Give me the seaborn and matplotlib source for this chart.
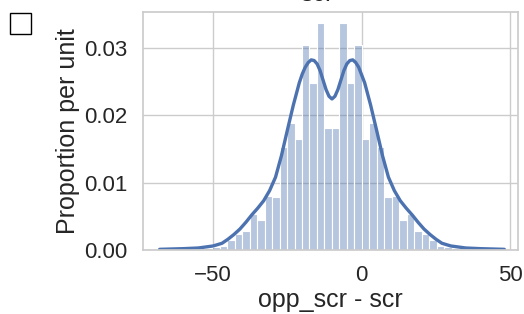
import numpy as np
import pandas as pd
import matplotlib
matplotlib.use("Agg")
import matplotlib.pyplot as plt
from matplotlib.patches import Rectangle
import seaborn as sns

# histogram: 46 equal bins over the data range
bin_lo = -68
bin_hi = 48
n_bins = 46
bar_heights = [0.0001, 0.0001, 0.0001, 0.0002, 0.0002, 0.0003, 0.0003, 0.0004, 0.0006,
               0.0015, 0.0024, 0.0028, 0.0054, 0.0044, 0.0080, 0.0078, 0.0153, 0.0188,
               0.0164, 0.0304, 0.0247, 0.0337, 0.0181,
               0.0181, 0.0337, 0.0247, 0.0304, 0.0164, 0.0188, 0.0153, 0.0078, 0.0080,
               0.0044, 0.0054, 0.0028, 0.0024, 0.0015, 0.0006, 0.0004, 0.0003, 0.0003,
               0.0002, 0.0002, 0.0001, 0.0001, 0.0001]

# density curve
kde_x = [-68, -60, -55, -50, -47, -45, -43, -41, -39, -37, -35, -33, -31, -29, -27,
         -25, -23, -21, -20, -19, -18, -17, -16, -15, -14, -13, -12, -11, -10,
         -9, -8, -7, -6, -5, -4, -3, -2, -1, 1, 3, 5, 7, 9, 11, 13, 15, 17, 19, 21,
         23, 25, 27, 30, 35, 40, 48]
kde_y = [0.0001, 0.0002, 0.0003, 0.0006, 0.0010, 0.0016, 0.0023, 0.0031, 0.0041, 0.0052,
         0.0062, 0.0073, 0.0088, 0.0108, 0.0140, 0.0178, 0.0215, 0.0248, 0.0261, 0.0271,
         0.0278, 0.0282, 0.0281, 0.0276, 0.0266, 0.0252, 0.0238, 0.0228, 0.0224,
         0.0228, 0.0238, 0.0252, 0.0266, 0.0276, 0.0281, 0.0282, 0.0278, 0.0271, 0.0248,
         0.0215, 0.0178, 0.0140, 0.0108, 0.0088, 0.0073, 0.0062, 0.0052, 0.0041, 0.0031,
         0.0023, 0.0016, 0.0010, 0.0006, 0.0003, 0.0002, 0.0001]

sns.set_theme(style="whitegrid")
plt.rcParams['font.family'] = ['Liberation Sans', 'DejaVu Sans']

edges = np.linspace(bin_lo, bin_hi, n_bins + 1)
hist_df = pd.DataFrame({"diff": (edges[:-1] + edges[1:]) / 2, "h": bar_heights})
blue = sns.color_palette("deep")[0]

fig = plt.figure(figsize=(5.24, 3.14), dpi=100)
ax = fig.add_axes([0.2729, 0.2038, 0.7156, 0.758])

sns.histplot(data=hist_df, x="diff", weights="h", bins=edges.tolist(), stat="count",
             color=blue, alpha=0.4, edgecolor="white", linewidth=0.8, ax=ax)
sns.lineplot(x=kde_x, y=kde_y, color=blue, lw=2.4, ax=ax)

ax.set_xlim(-73.6, 52.6)
ax.set_ylim(0, 0.0353)
ax.set_xticks([-50, 0, 50])
ax.set_yticks([0, 0.01, 0.02, 0.03])
ax.set_yticklabels(["0.00", "0.01", "0.02", "0.03"])
ax.tick_params(labelsize=16, pad=5)
ax.set_xlabel("opp_scr - scr", fontsize=18, labelpad=1)
ax.set_ylabel("Proportion per unit", fontsize=18, labelpad=3)
ax.set_title("scr", fontsize=18, x=0.465, pad=8)
for s in ax.spines.values():
    s.set_color("#cccccc")

fig.patches.append(Rectangle((10 / 524, 1 - 34 / 314), 21 / 524, 21 / 314,
                             transform=fig.transFigure, fill=False,
                             edgecolor="black", linewidth=1.0))

fig.savefig("out.png", dpi=100)
